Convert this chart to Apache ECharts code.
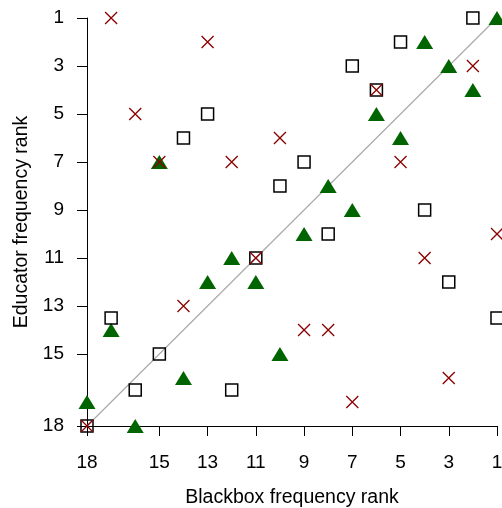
<!DOCTYPE html>
<html><head><meta charset="utf-8">
<script src="https://cdn.jsdelivr.net/npm/echarts@6/dist/echarts.min.js"></script>
<style>html,body{margin:0;padding:0;background:#fff}#c{width:502px;height:508px}</style>
</head><body><div id="c"></div>
<script>
const xTicks = [18, 15, 13, 11, 9, 7, 5, 3, 1];
const yTicks = [1, 3, 5, 7, 9, 11, 13, 15, 18];
const crossX = [17, 13, 2, 6, 16, 10, 15, 12, 5, 1, 4, 11, 14, 9, 8, 3, 7, 18];
const crossY = [1, 2, 3, 4, 5, 6, 7, 7, 7, 10, 11, 11, 13, 14, 14, 16, 17, 18];
const squareX = [2, 5, 7, 6, 13, 14, 9, 10, 4, 8, 11, 3, 1, 17, 15, 16, 12, 18];
const squareY = [1, 2, 3, 4, 5, 6, 7, 8, 9, 10, 11, 12, 13.5, 13.5, 15, 16.5, 16.5, 18];
const triX = [1, 4, 3, 2, 6, 5, 15, 8, 7, 9, 12, 11, 13, 17, 10, 14, 18, 16];
const triY = [1, 2, 3, 4, 5, 6, 7, 8, 9, 10, 11, 12, 12, 14, 15, 16, 17, 18];
const diagonal = [[18, 18], [1, 1]];

const zip = (a, b) => a.map((v, i) => [v, b[i]]);
const font = 'Liberation Sans, Arial, sans-serif';
const chart = echarts.init(document.getElementById('c'), null, {renderer: 'canvas'});
const axisCommon = {
  type: 'value', min: 1, max: 18, interval: 1, inverse: true,
  nameLocation: 'middle',
  nameTextStyle: {fontFamily: font, fontSize: 19.5, color: '#000'},
  axisLine: {show: true, onZero: false, lineStyle: {color: '#000', width: 1}},
  splitLine: {show: false}
};
chart.setOption({
  animation: false,
  grid: {left: 87, right: 5, top: 18, bottom: 82, containLabel: false, outerBoundsMode: 'none'},
  xAxis: Object.assign({}, axisCommon, {
    name: 'Blackbox frequency rank', nameGap: 62,
    axisTick: {show: true, length: 10, inside: false, customValues: xTicks, lineStyle: {color: '#000'}},
    axisLabel: {customValues: xTicks, margin: 27, fontFamily: font, fontSize: 19, color: '#000'}
  }),
  yAxis: Object.assign({}, axisCommon, {
    name: 'Educator frequency rank', nameGap: 55,
    axisTick: {show: true, length: 10, inside: false, customValues: yTicks, lineStyle: {color: '#000'}},
    axisLabel: {customValues: yTicks, margin: 23, fontFamily: font, fontSize: 19, color: '#000'}
  }),
  series: [
    {type: 'line', data: diagonal, showSymbol: false, symbol: 'none', z: 1,
     lineStyle: {color: '#aaaaaa', width: 1.2}, silent: true},
    {type: 'scatter', data: zip(triX, triY), symbol: 'triangle', symbolSize: [17, 14], z: 2,
     itemStyle: {color: '#006400', opacity: 1}},
    {type: 'scatter', data: zip(squareX, squareY), symbol: 'rect', symbolSize: 12, z: 3,
     itemStyle: {color: 'rgba(0,0,0,0)', borderColor: '#000', borderWidth: 1.5, opacity: 1}},
    {type: 'scatter', data: zip(crossX, crossY), symbol: 'path://M0,0L10,10M10,0L0,10', symbolSize: 12, z: 4,
     itemStyle: {color: 'none', borderColor: '#8b0000', borderWidth: 1.3, opacity: 1}}
  ]
});
</script></body></html>
